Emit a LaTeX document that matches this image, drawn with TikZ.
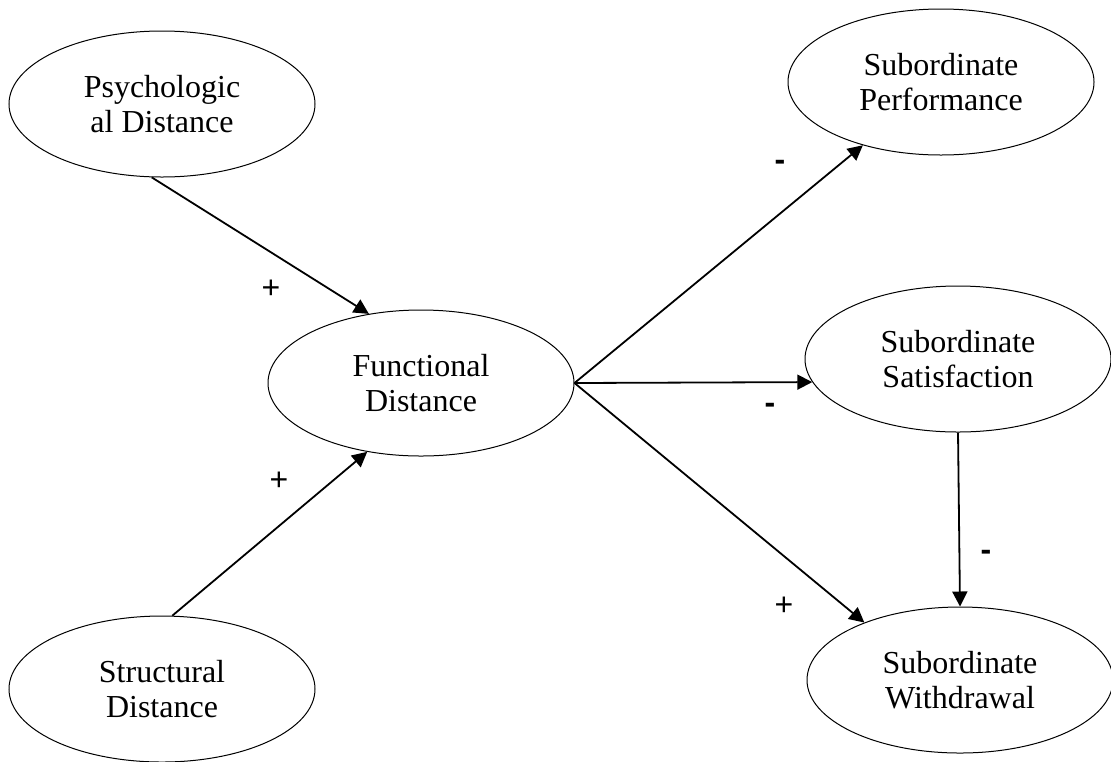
\documentclass[tikz,border=0pt]{standalone}
\usepackage{fontspec}
\setmainfont{Liberation Serif}
\newfontfamily\signfont{Liberation Sans}
\usetikzlibrary{arrows.meta,shapes.geometric}
\tikzset{
        varnode/.style = {align=center, inner sep=0pt, text centered,
            font=\fontsize{16}{17.5}\selectfont},
        var_e/.style = {varnode, ellipse, draw=black, line width=0.5pt,
            minimum width=153pt, minimum height=73pt},
        var_s/.style = {inner sep=0pt, font=\signfont\fontsize{16}{18}\selectfont},
        var_m/.style = {var_s, font=\signfont\bfseries\fontsize{16}{18}\selectfont}
    }
\begin{document}
\begin{tikzpicture}[x=0.5pt,y=-0.5pt,line width=0.9pt,
            >={Triangle[length=7.5pt,width=7.5pt]}]
            \useasboundingbox (0,0) rectangle (1111,761);
            % LEFT
            \node [var_e] (psych) at (162,104) {Psychologic\\al Distance};
            \node [var_e] (struct) at (162,689) {Structural\\Distance};
            \node [var_e] (func) at (421,383) {Functional\\Distance};
            % RIGHT
            \node [var_e] (perf) at (941,82) {Subordinate\\Performance};
            \node [var_e] (satis) at (958,359) {Subordinate\\Satisfaction};
            \node [var_e] (withd) at (960,680) {Subordinate\\Withdrawal};
            % ARROWS
            \draw [->] (psych.-98) -- (func.127);
            \draw [->] (struct.82) -- (func.-128);
            \draw [->] (func.east) -- (perf.-141);
            \draw [->] (func.east) -- (satis.-171);
            \draw [->] (func.east) -- (withd.149);
            \draw [->] (satis.south) -- (withd.north);
            % SIGNS
            \node [var_s] (s_pf) at (271,289) {+};
            \node [var_s] (s_sf) at (279,481) {+};
            \node [var_m] (s_fp) at (780,165) {-};
            \node [var_m] (s_fs) at (770,408) {-};
            \node [var_m] (s_sw) at (986,555) {-};
            \node [var_s] (s_fw) at (784,606) {+};
        \end{tikzpicture}
\end{document}
